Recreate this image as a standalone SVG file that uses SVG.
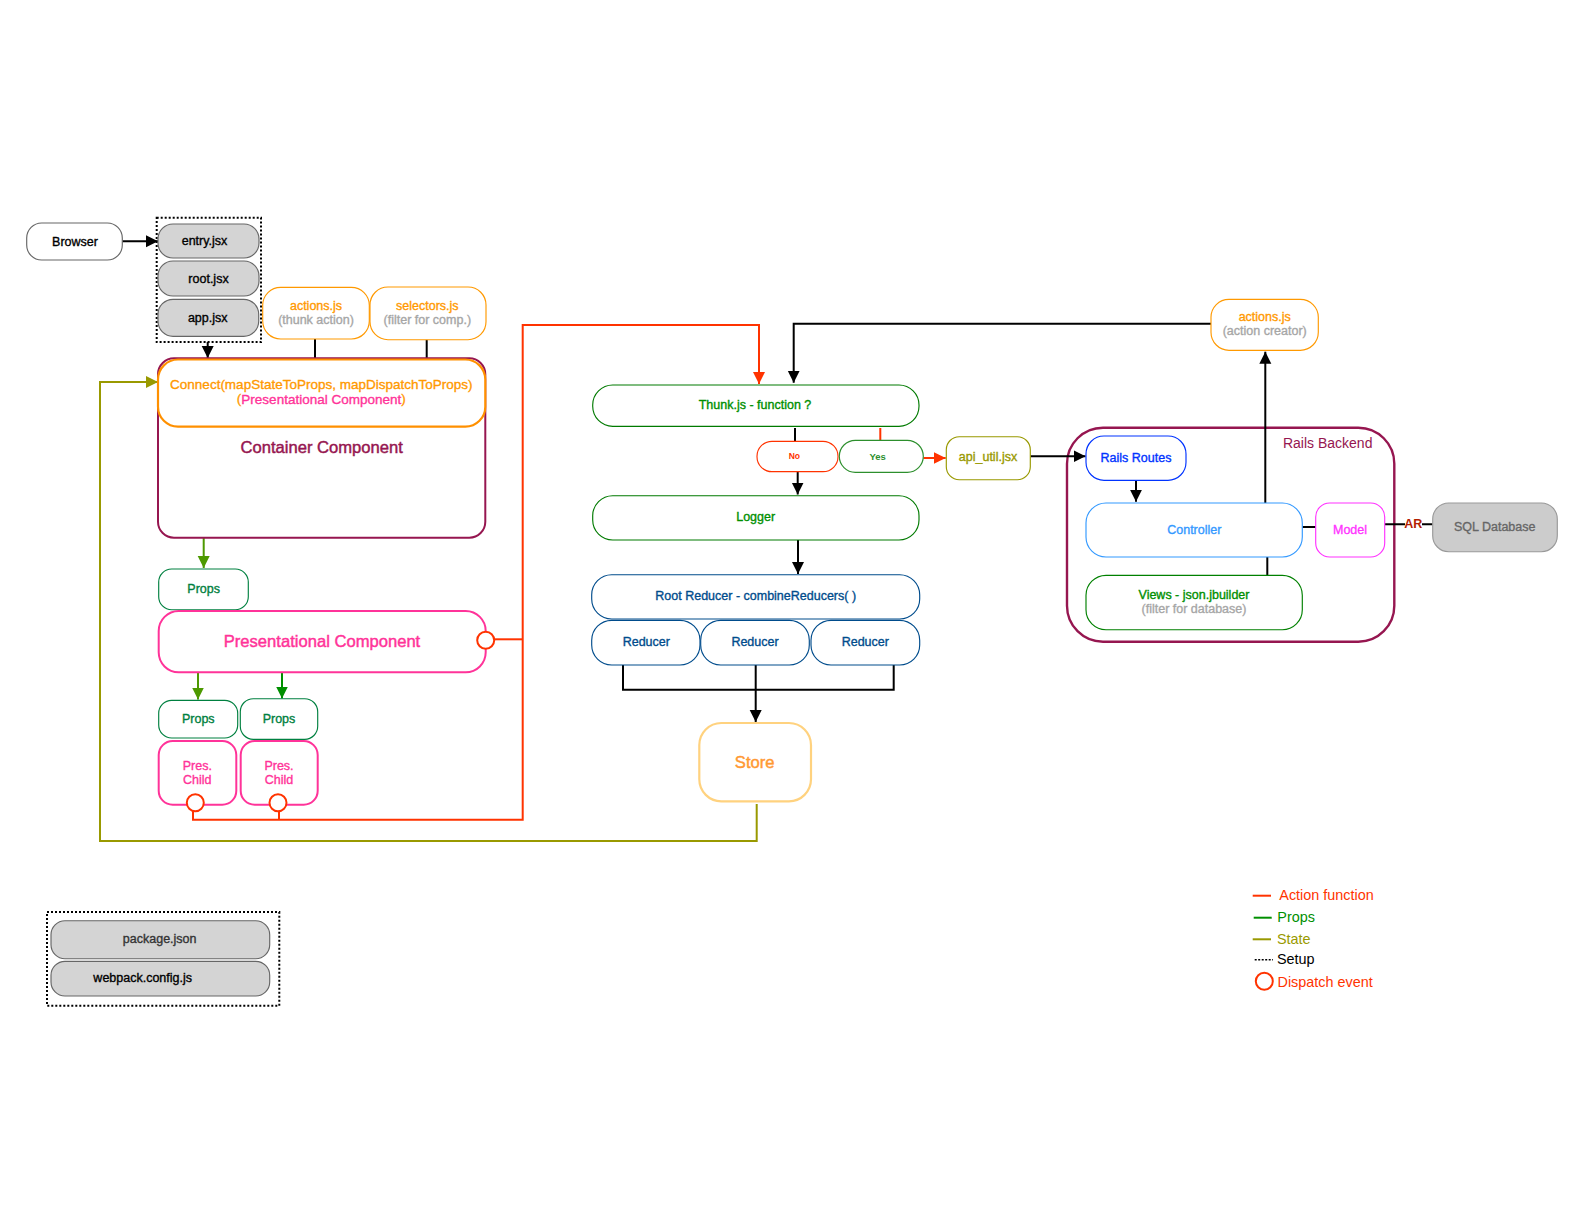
<svg xmlns="http://www.w3.org/2000/svg" width="1584" height="1224" viewBox="0 0 1584 1224">
<style>
text{font-family:"Liberation Sans",Arial,sans-serif;font-size:12.5px;text-anchor:middle;dominant-baseline:central;stroke-width:.35px}
.l{text-anchor:start;font-size:14.4px;stroke-width:0}
.big{font-size:16.6px;stroke-width:.45px}
.m{font-size:13.5px}
rect{fill:#fff;stroke-width:1.15}
.g{fill:#d4d4d4;stroke:#666}
.dot{fill:none;stroke:#000;stroke-width:2;stroke-dasharray:2 2}
.c{fill:none;stroke-width:2}
.k{stroke:#000}.r{stroke:#f30}.o{stroke:#990}.lg{stroke:#4d9900}.dg{stroke:#008f00}
.ck{fill:#000;stroke:#000}.cg{fill:#a6a6a6;stroke:#a6a6a6}.cr{fill:#f30;stroke:#f30}.cor{fill:#f90;stroke:#f90}.cp{fill:#f39;stroke:#f39}.cgr{fill:#008040;stroke:#008040}.cdg{fill:#008f00;stroke:#008f00}.cb{fill:#004c8c;stroke:#004c8c}.col{fill:#990;stroke:#990}
.disp{fill:#fff;stroke:#f30;stroke-width:2}
</style>
<defs>
<marker id="ak" markerUnits="userSpaceOnUse" markerWidth="13" markerHeight="13" refX="12" refY="6.5" orient="auto"><path d="M0 .5L12 6.5L0 12.5Z" fill="#000"/></marker>
<marker id="ar" markerUnits="userSpaceOnUse" markerWidth="13" markerHeight="13" refX="12" refY="6.5" orient="auto"><path d="M0 .5L12 6.5L0 12.5Z" fill="#f30"/></marker>
<marker id="ao" markerUnits="userSpaceOnUse" markerWidth="13" markerHeight="13" refX="12" refY="6.5" orient="auto"><path d="M0 .5L12 6.5L0 12.5Z" fill="#990"/></marker>
<marker id="alg" markerUnits="userSpaceOnUse" markerWidth="13" markerHeight="13" refX="12" refY="6.5" orient="auto"><path d="M0 .5L12 6.5L0 12.5Z" fill="#4d9900"/></marker>
<marker id="adg" markerUnits="userSpaceOnUse" markerWidth="13" markerHeight="13" refX="12" refY="6.5" orient="auto"><path d="M0 .5L12 6.5L0 12.5Z" fill="#008f00"/></marker>
</defs>

<g id="rails-backend">
<rect x="1067" y="427.7" width="327.3" height="214" rx="36" stroke="#961650" style="stroke-width:2.4"/>
<text x="1327.7" y="443.3" style="font-size:14px;fill:#961650;stroke-width:0">Rails Backend</text>
</g>

<g id="connectors">
<path class="c k" d="M122.3 241.3H158" marker-end="url(#ak)"/>
<path class="c k" d="M207.7 342V358" marker-end="url(#ak)"/>
<path class="c k" d="M315 339V359"/>
<path class="c k" d="M426.7 339.7V359"/>
<path class="c o" d="M756.7 804V841H100V382H158" marker-end="url(#ao)"/>
<path class="c lg" d="M203.7 537.7V568" marker-end="url(#alg)"/>
<path class="c lg" d="M198 672.3V699.5" marker-end="url(#alg)"/>
<path class="c dg" d="M282 672.3V698.5" marker-end="url(#adg)"/>
<path class="c r" d="M494 639.3H522.7"/>
<path class="c r" d="M193 810V819.7H522.7V325H759V384" marker-end="url(#ar)"/>
<path class="c r" d="M279 810V819.7"/>
<path class="c k" d="M1211 323.7H793.7V382.7" marker-end="url(#ak)"/>
<path class="c k" d="M795 428V441.3"/>
<path class="c r" d="M880.3 428V440.3"/>
<path class="c r" d="M923.3 458H945.7" marker-end="url(#ar)"/>
<path class="c k" d="M797.7 471.7V494.5" marker-end="url(#ak)"/>
<path class="c k" d="M798 540V574" marker-end="url(#ak)"/>
<path class="c k" d="M623 665V689.7H893.7V665"/>
<path class="c k" d="M755.7 665V722" marker-end="url(#ak)"/>
<path class="c k" d="M1030.3 456.3H1085.5" marker-end="url(#ak)"/>
<path class="c k" d="M1136 480.3V501.7" marker-end="url(#ak)"/>
<path class="c k" d="M1265.3 503V351.7" marker-end="url(#ak)"/>
<path class="c k" d="M1302.3 527H1316"/>
<path class="c k" d="M1267.3 557V575.3"/>
<path class="c k" d="M1384.7 524.3H1432.7"/>
</g>

<g id="browser"><rect x="26.7" y="223" width="95.6" height="37" rx="15" stroke="#666"/><text x="75" y="241.5" class="ck">Browser</text></g>

<g id="setup-box"><rect x="156.7" y="217.7" width="104.3" height="124.3" class="dot"/></g>
<g id="entry"><rect x="158" y="224" width="101" height="34" rx="15" class="g"/><text x="204.5" y="241" class="ck">entry.jsx</text></g>
<g id="root"><rect x="158" y="261" width="101" height="35" rx="15" class="g"/><text x="208.5" y="279" class="ck">root.jsx</text></g>
<g id="app"><rect x="158" y="299.3" width="100.7" height="37" rx="15" class="g"/><text x="207.7" y="318" class="ck">app.jsx</text></g>

<g id="actions-thunk"><rect x="262.7" y="287.3" width="106.6" height="51.7" rx="18" stroke="#f90"/><text x="316" y="305.7" class="cor">actions.js</text><text x="316" y="319.7" class="cg">(thunk action)</text></g>
<g id="selectors"><rect x="370" y="287" width="116" height="52.7" rx="18" stroke="#f90"/><text x="427.3" y="305.7" class="cor">selectors.js</text><text x="427.3" y="319.7" class="cg">(filter for comp.)</text></g>

<g id="container-component"><rect x="158" y="358.3" width="327.3" height="179.4" rx="16" stroke="#961650" style="stroke-width:2"/><text x="321.7" y="447" class="big" style="fill:#961650;stroke:#961650">Container Component</text></g>
<g id="connect"><rect x="158" y="359.5" width="327.3" height="67.2" rx="20" stroke="#ff9000" style="stroke-width:2.2"/><text x="321.3" y="384.7" class="cor m">Connect(mapStateToProps, mapDispatchToProps)</text><text x="321.3" y="398.7" class="cor m">(<tspan class="cp">Presentational Component</tspan>)</text></g>

<g id="props-main"><rect x="158.7" y="569" width="89.6" height="40.7" rx="13" stroke="#008040"/><text x="203.7" y="588.7" class="cgr">Props</text></g>
<g id="presentational"><rect x="158.7" y="611" width="327" height="61.3" rx="20" stroke="#f39" style="stroke-width:2"/><text x="322" y="641.3" class="big cp">Presentational Component</text><circle cx="485.7" cy="640.3" r="8.5" class="disp"/></g>
<g id="props-left"><rect x="158.7" y="700.3" width="79" height="37.7" rx="13" stroke="#008040"/><text x="198.3" y="718.7" class="cgr">Props</text></g>
<g id="props-right"><rect x="240.3" y="698.7" width="77.4" height="40.6" rx="13" stroke="#008040"/><text x="279" y="718.7" class="cgr">Props</text></g>
<g id="pres-child-left"><rect x="158.7" y="741" width="77.6" height="63.7" rx="14" stroke="#f39" style="stroke-width:2"/><text x="197.3" y="765.7" class="cp">Pres.</text><text x="197.3" y="779.7" class="cp">Child</text><circle cx="195.3" cy="802.7" r="8.5" class="disp"/></g>
<g id="pres-child-right"><rect x="240.7" y="741" width="77" height="63.7" rx="14" stroke="#f39" style="stroke-width:2"/><text x="279" y="765.7" class="cp">Pres.</text><text x="279" y="779.7" class="cp">Child</text><circle cx="278" cy="802.7" r="8.5" class="disp"/></g>

<g id="thunk"><rect x="592.7" y="385" width="326.3" height="41.3" rx="20" stroke="#007a00"/><text x="755" y="405" class="cdg">Thunk.js - function ?</text></g>
<g id="no"><rect x="757" y="441.3" width="81" height="30.4" rx="15" stroke="#f30"/><text x="794.3" y="456.3" class="cr" style="font-size:8.5px;font-weight:bold;stroke-width:0">No</text></g>
<g id="yes"><rect x="839.3" y="440.3" width="84" height="32" rx="16" stroke="#2d8f2d"/><text x="877.7" y="456.7" style="font-size:9.5px;font-weight:bold;fill:#2d8f2d;stroke-width:0">Yes</text></g>
<g id="api-util"><rect x="946.3" y="436.7" width="84" height="43" rx="13" stroke="#990"/><text x="988" y="457" class="col">api_util.jsx</text></g>
<g id="logger"><rect x="592.7" y="495.7" width="326.3" height="44.3" rx="20" stroke="#007a00"/><text x="755.7" y="517" class="cdg">Logger</text></g>
<g id="root-reducer"><rect x="591.7" y="574.7" width="328" height="44.3" rx="20" stroke="#004c8c"/><text x="755.7" y="595.7" class="cb">Root Reducer - combineReducers( )</text></g>
<g id="reducer-1"><rect x="591.7" y="620.3" width="108.3" height="44.7" rx="20" stroke="#004c8c"/><text x="646.3" y="641.7" class="cb">Reducer</text></g>
<g id="reducer-2"><rect x="700.7" y="620.3" width="108.6" height="44.7" rx="20" stroke="#004c8c"/><text x="755" y="641.7" class="cb">Reducer</text></g>
<g id="reducer-3"><rect x="811" y="620.3" width="108.7" height="44.7" rx="20" stroke="#004c8c"/><text x="865.3" y="641.7" class="cb">Reducer</text></g>
<g id="store"><rect x="699.3" y="723" width="111.7" height="78.3" rx="22" stroke="#ffd27f" style="stroke-width:2.2"/><text x="754.7" y="762.3" class="big" style="fill:#f93;stroke:#f93">Store</text></g>

<g id="actions-creator"><rect x="1211" y="299.3" width="107.3" height="51" rx="18" stroke="#f90"/><text x="1264.7" y="317" class="cor">actions.js</text><text x="1264.7" y="330.7" class="cg">(action creator)</text></g>
<g id="rails-routes"><rect x="1086" y="436" width="100" height="44.3" rx="18" stroke="#03f"/><text x="1136" y="458" style="fill:#03f;stroke:#03f">Rails Routes</text></g>
<g id="controller"><rect x="1086" y="503" width="216.3" height="54" rx="20" stroke="#39f"/><text x="1194.3" y="529.7" style="fill:#39f;stroke:#39f">Controller</text></g>
<g id="model"><rect x="1315.7" y="503" width="69" height="54" rx="14" stroke="#f3f"/><text x="1350" y="529.7" style="fill:#f3f;stroke:#f3f">Model</text></g>
<g id="views"><rect x="1086" y="575.3" width="216.3" height="54.4" rx="20" stroke="#008000"/><text x="1194" y="595" class="cdg">Views - json.jbuilder</text><text x="1194" y="609" class="cg">(filter for database)</text></g>
<g id="ar-label"><rect x="1405" y="517" width="17" height="14" style="stroke:none"/><text x="1413.3" y="524" style="font-weight:bold;fill:#b32000;stroke-width:0">AR</text></g>
<g id="sql-database"><rect x="1432.7" y="503" width="124.6" height="48.7" rx="16" stroke="#999" style="fill:#ccc"/><text x="1494.7" y="526.7" style="fill:#666;stroke:#666">SQL Database</text></g>

<g id="config-box"><rect x="47" y="912" width="232.3" height="93.7" class="dot"/></g>
<g id="package-json"><rect x="51" y="920.7" width="218.7" height="38" rx="14" class="g"/><text x="159.7" y="939" style="fill:#333;stroke:#333">package.json</text></g>
<g id="webpack-config"><rect x="51" y="961.3" width="218.7" height="34.7" rx="14" class="g"/><text x="142.7" y="978" class="ck">webpack.config.js</text></g>

<g id="legend">
<path d="M1252.7 895.7H1271" class="c r"/><text x="1279.3" y="894.7" class="l" fill="#f30">Action function</text>
<path d="M1253.7 917.7H1271.7" class="c dg"/><text x="1277.3" y="916.7" class="l" fill="#008f00">Props</text>
<path d="M1252.7 939.3H1271" class="c o"/><text x="1277" y="938.7" class="l" fill="#990">State</text>
<path d="M1254.7 959.7H1273" class="c k" style="stroke-dasharray:2 1.5;stroke-width:1.5"/><text x="1277" y="959" class="l" fill="#000">Setup</text>
<circle cx="1264.3" cy="981.3" r="8.5" class="disp"/><text x="1277.5" y="982" class="l" fill="#f30">Dispatch event</text>
</g>
</svg>
